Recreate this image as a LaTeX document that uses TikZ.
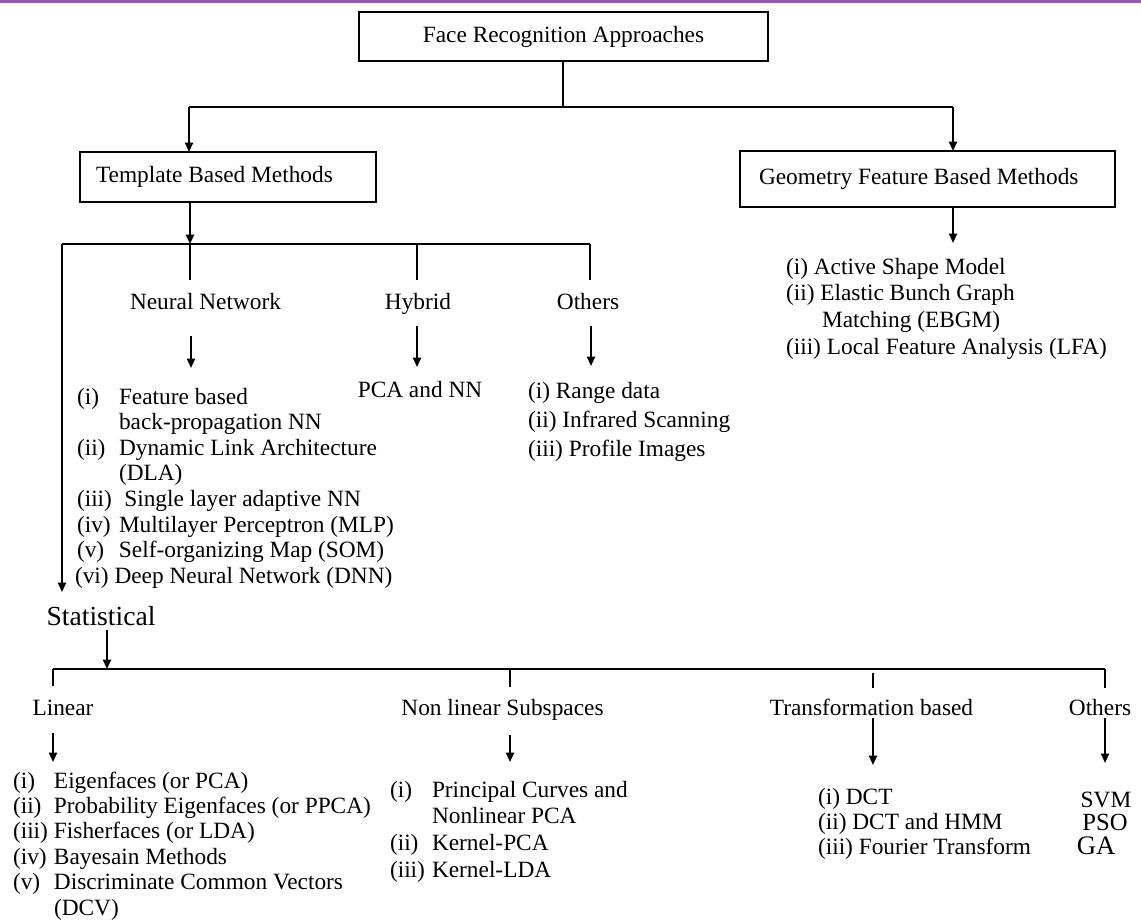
\documentclass[tikz,border=0pt]{standalone}
\usepackage{fontspec}
\setmainfont{Liberation Serif}
\usetikzlibrary{arrows.meta}
\definecolor{purplebar}{RGB}{150,90,180}
\newcommand{\lb}[2]{\makebox[#1][l]{#2}}
\begin{document}
\begin{tikzpicture}[x=0.75pt,y=-0.75pt,
  every node/.style={inner sep=0pt,outer sep=0pt,font=\fontsize{17.5}{19.5}\selectfont},
  ln/.style={line width=1.4pt},
  arr/.style={line width=1.4pt,-{Triangle[length=7pt,width=6pt]}},
  boxnode/.style={draw,line width=1.5pt},
  lbl/.style={anchor=base},
  lst/.style={anchor=base west}]
\useasboundingbox (0,0) rectangle (1141,922);
\fill[purplebar] (0,0) rectangle (1141,3);

% boxes
\node[boxnode,align=center,minimum width=306.75pt,minimum height=36.75pt] (title) at (563.5,36.5) {Face Recognition Approaches};
\node[boxnode,text width=198pt,align=flush left,inner xsep=12pt,minimum height=37.5pt] (templ) at (228,177) {Template Based Methods};
\node[boxnode,text width=252.75pt,align=flush left,inner xsep=14.25pt,minimum height=42pt] (geom) at (927.5,179) {Geometry Feature Based Methods};

% top connectors
\coordinate (j1) at (563,107);
\coordinate (j1L) at (189,107);
\coordinate (j1R) at (953,107);
\draw[ln] (title.south -| j1) -- (j1);
\draw[ln] (j1L) -- (j1R);
\draw[arr] (j1L) -- (j1L |- templ.north);
\draw[arr] (j1R) -- (j1R |- geom.north);

% template branch
\coordinate (j2) at (190,244);
\coordinate (j2a) at (62,244);
\coordinate (j2c) at (417,244);
\coordinate (j2d) at (590,244);
\draw[arr] (templ.south -| j2) -- (j2);
\draw[ln] (j2a) -- (j2d);
\coordinate (t1) at (190,280);
\coordinate (t2) at (417,280);
\coordinate (t3) at (590,280);
\draw[ln] (j2) -- (t1);
\draw[ln] (j2c) -- (t2);
\draw[ln] (j2d) -- (t3);

\node[lbl] (nn) at (205.5,309) {Neural Network};
\node[lbl] (hyb) at (418,309) {Hybrid};
\node[lbl] (oth1) at (588,309) {Others};

\coordinate (a1s) at (191,336); \coordinate (a1e) at (191,368);
\coordinate (a2s) at (417,326); \coordinate (a2e) at (417,367);
\coordinate (a3s) at (591,326); \coordinate (a3e) at (591,366);
\draw[arr] (a1s) -- (a1e);
\draw[arr] (a2s) -- (a2e);
\draw[arr] (a3s) -- (a3e);

\node[lst,font=\fontsize{17.5}{19.2}\selectfont] (nnl) at (77,404) {\begin{tabular}[t]{@{}l@{}}
\lb{31.5pt}{(i)}Feature based\\
\lb{31.5pt}{}back-propagation NN\\
\lb{31.5pt}{(ii)}Dynamic Link Architecture\\
\lb{31.5pt}{}(DLA)\\
\lb{31.5pt}{(iii)}\hspace{4pt}Single layer adaptive NN\\
\lb{31.5pt}{(iv)}Multilayer Perceptron (MLP)\\
\lb{31.5pt}{(v)}Self-organizing Map (SOM)\\
\hspace*{-1.5pt}(vi) Deep Neural Network (DNN)
\end{tabular}};

\node[lbl] (pca) at (420,397) {PCA and NN};

\node[lst,font=\fontsize{17.5}{21.75}\selectfont] (othl) at (528,398) {\begin{tabular}[t]{@{}l@{}}
(i) Range data\\
(ii) Infrared Scanning\\
(iii) Profile Images
\end{tabular}};

% geometry branch
\coordinate (g1) at (953,243);
\draw[arr] (geom.south -| g1) -- (g1);
\node[lst,font=\fontsize{17.5}{20}\selectfont] (geol) at (786,274) {\begin{tabular}[t]{@{}l@{}}
(i) Active Shape Model\\
(ii) Elastic Bunch Graph\\
\hspace*{27pt}Matching (EBGM)\\
(iii) Local Feature Analysis (LFA)
\end{tabular}};

% statistical
\coordinate (s0) at (62,592);
\draw[arr] (j2a) -- (s0);
\node[font=\fontsize{20.7}{24}\selectfont] (stat) at (101,616) {Statistical};
\coordinate (sj) at (107,669);
\draw[arr] (stat.south -| sj) ++(0,4) -- (sj);

\coordinate (h1) at (53,669);
\coordinate (h2) at (510,669);
\coordinate (h4) at (1105,669);
\draw[ln] (h1) -- (h4);
\coordinate (k1) at (53,686);
\coordinate (k2) at (510,687);
\coordinate (k3s) at (873,673);
\coordinate (k3) at (873,688);
\coordinate (k4) at (1105,688);
\draw[ln] (h1) -- (k1);
\draw[ln] (h2) -- (k2);
\draw[ln] (k3s) -- (k3);
\draw[ln] (h4) -- (k4);

\node[lbl] (lin) at (63,715) {Linear};
\node[lbl] (nls) at (502.5,715) {Non linear Subspaces};
\node[lbl] (trb) at (871.5,715) {Transformation based};
\node[lbl] (oth2) at (1100,715) {Others};

\coordinate (b1s) at (53,733); \coordinate (b1e) at (53,762);
\coordinate (b2s) at (510,735); \coordinate (b2e) at (510,762);
\coordinate (b3s) at (873,718); \coordinate (b3e) at (873,765);
\coordinate (b4s) at (1105,718); \coordinate (b4e) at (1105,763);
\draw[arr] (b1s) -- (b1e);
\draw[arr] (b2s) -- (b2e);
\draw[arr] (b3s) -- (b3e);
\draw[arr] (b4s) -- (b4e);

\node[lst,font=\fontsize{17.5}{19.1}\selectfont] (linl) at (13,788) {\begin{tabular}[t]{@{}l@{}}
\lb{30.75pt}{(i)}Eigenfaces (or PCA)\\
\lb{30.75pt}{(ii)}Probability Eigenfaces (or PPCA)\\
\lb{30.75pt}{(iii)}Fisherfaces (or LDA)\\
\lb{30.75pt}{(iv)}Bayesain Methods\\
\lb{30.75pt}{(v)}Discriminate Common Vectors\\
\lb{30.75pt}{}(DCV)
\end{tabular}};

\node[lst,font=\fontsize{17.5}{20}\selectfont] (nlsl) at (390,797) {\begin{tabular}[t]{@{}l@{}}
\lb{31.5pt}{(i)}Principal Curves and\\
\lb{31.5pt}{}Nonlinear PCA\\
\lb{31.5pt}{(ii)}Kernel-PCA\\
\lb{31.5pt}{(iii)}Kernel-LDA
\end{tabular}};

\node[lst,font=\fontsize{17.5}{19.1}\selectfont] (trbl) at (818,804) {\begin{tabular}[t]{@{}l@{}}
(i) DCT\\
(ii) DCT and HMM\\
(iii) Fourier Transform
\end{tabular}};

\node[font=\fontsize{17.5}{19.5}\selectfont] (svm) at (1106,800) {SVM};
\node[font=\fontsize{18.5}{20}\selectfont] (pso) at (1105,822) {PSO};
\node[font=\fontsize{20}{22}\selectfont] (ga) at (1096,846) {GA};
\end{tikzpicture}
\end{document}
